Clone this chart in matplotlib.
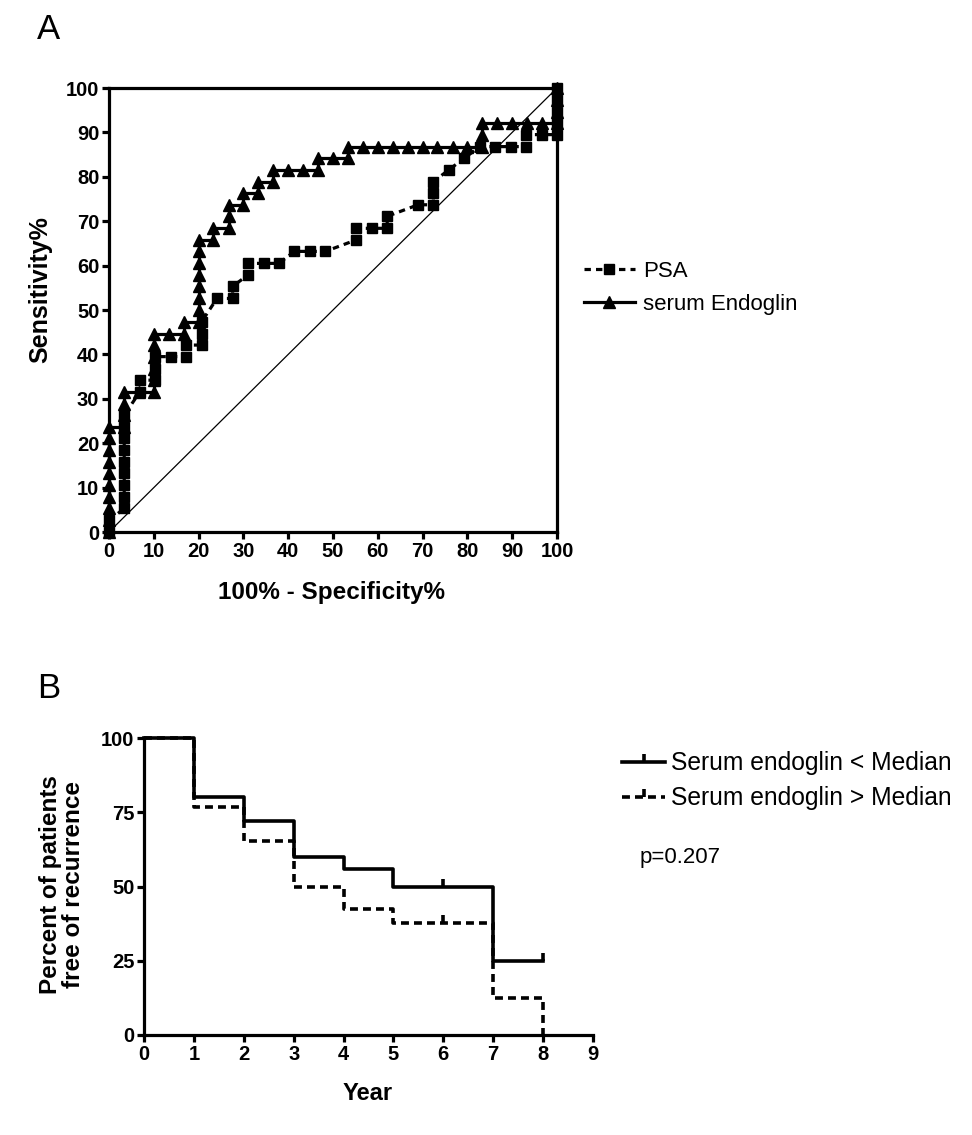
import matplotlib
matplotlib.use('Agg')
import matplotlib.pyplot as plt
from matplotlib.lines import Line2D

plt.rcParams['font.family'] = ['Liberation Sans', 'DejaVu Sans']

# Panel A: ROC (1 - specificity %, sensitivity %)
psa_fpr = [0, 0, 3.4, 3.4, 3.4, 3.4, 3.4, 3.4, 3.4, 3.4, 3.4,
           6.9, 6.9, 10.3, 10.3, 10.3, 13.8, 17.2, 17.2, 20.7, 20.7, 20.7,
           24.1, 27.6, 27.6, 31.0, 31.0, 34.5, 37.9, 41.4, 44.8, 48.3,
           55.2, 55.2, 58.6, 62.1, 62.1, 69.0, 72.4, 72.4, 72.4, 75.9, 79.3,
           82.8, 86.2, 89.7, 93.1, 93.1, 96.6, 100, 100, 100, 100, 100]
psa_sens = [0, 2.6, 5.3, 7.9, 10.5, 13.2, 15.8, 18.4, 21.1, 23.7, 26.3,
            31.6, 34.2, 34.2, 36.8, 39.5, 39.5, 39.5, 42.1, 42.1, 44.7, 47.4,
            52.6, 52.6, 55.3, 57.9, 60.5, 60.5, 60.5, 63.2, 63.2, 63.2,
            65.8, 68.4, 68.4, 68.4, 71.1, 73.7, 73.7, 76.3, 78.9, 81.6, 84.2,
            86.8, 86.8, 86.8, 86.8, 89.5, 89.5, 89.5, 92.1, 94.7, 97.4, 100]

endo_fpr = [0, 0, 0, 0, 0, 0, 0, 0, 0, 0,
            3.3, 3.3, 3.3, 3.3,
            6.7, 10, 10, 10, 10, 10, 10,
            13.3, 16.7, 16.7,
            20, 20, 20, 20, 20, 20, 20, 20,
            23.3, 23.3, 26.7, 26.7, 26.7, 30, 30, 33.3, 33.3, 36.7, 36.7,
            40, 43.3, 46.7, 46.7, 50, 53.3, 53.3,
            56.7, 60, 63.3, 66.7, 70, 73.3, 76.7, 80, 83.3, 83.3, 83.3,
            86.7, 90, 93.3, 96.7, 100, 100, 100, 100]
endo_sens = [0, 2.6, 5.3, 7.9, 10.5, 13.2, 15.8, 18.4, 21.1, 23.7,
             23.7, 26.3, 28.9, 31.6,
             31.6, 31.6, 34.2, 36.8, 39.5, 42.1, 44.7,
             44.7, 44.7, 47.4,
             47.4, 50.0, 52.6, 55.3, 57.9, 60.5, 63.2, 65.8,
             65.8, 68.4, 68.4, 71.1, 73.7, 73.7, 76.3, 76.3, 78.9, 78.9, 81.6,
             81.6, 81.6, 81.6, 84.2, 84.2, 84.2, 86.8,
             86.8, 86.8, 86.8, 86.8, 86.8, 86.8, 86.8, 86.8, 86.8, 89.5, 92.1,
             92.1, 92.1, 92.1, 92.1, 92.1, 94.7, 97.4, 100]

# Panel B: Kaplan-Meier
km_low_t = [0, 1, 2, 3, 4, 5, 7, 8]
km_low_s = [100, 80, 72, 60, 56, 49.8, 24.9, 24.9]
km_low_cens_t = [6, 8]
km_low_cens_s = [49.8, 24.9]

km_high_t = [0, 1, 2, 3, 4, 5, 7, 8, 8]
km_high_s = [100, 76.9, 65.4, 50, 42.3, 37.6, 12.5, 12.5, 0]
km_high_cens_t = [6]
km_high_cens_s = [37.6]

W, H = 972, 1135
fig = plt.figure(figsize=(W / 100, H / 100), dpi=100)


def box(x0, y0, x1, y1):
    return [x0 / W, 1 - y1 / H, (x1 - x0) / W, (y1 - y0) / H]


def ftext(x, y, s, **kw):
    fig.text(x / W, 1 - y / H, s, **kw)


LW = 2.3

# ---- A ----
ax = fig.add_axes(box(109, 88, 557, 532))
ax.plot([0, 100], [0, 100], color='black', lw=0.9)
ax.plot(psa_fpr, psa_sens, color='black', lw=LW, ls=(0, (2.0, 1.6)),
        marker='s', ms=6.5, clip_on=False, label='PSA', zorder=3)
ax.plot(endo_fpr, endo_sens, color='black', lw=LW, ls='-',
        marker='^', ms=8.5, clip_on=False, label='serum Endoglin', zorder=4)
ax.set_xlim(0, 100)
ax.set_ylim(0, 100)
ax.set_xticks(range(0, 101, 10))
ax.set_yticks(range(0, 101, 10))
for s in ax.spines.values():
    s.set_linewidth(LW)
ax.tick_params(length=5, width=LW, pad=2)
for lab in ax.get_xticklabels() + ax.get_yticklabels():
    lab.set_fontsize(14.5)
    lab.set_fontweight('bold')
ax.legend(loc='center left', bbox_to_anchor=(1.04, 0.55), frameon=False,
          fontsize=16, handlelength=2.3, handletextpad=0.35, labelspacing=0.55,
          numpoints=1, borderaxespad=0)

ftext(331, 592, '100% - Specificity%', ha='center', va='center',
      fontsize=17.5, fontweight='bold')
ftext(40, 290, 'Sensitivity%', ha='center', va='center', rotation=90,
      fontsize=18, fontweight='bold')
ftext(37, 39, 'A', fontsize=25)

# ---- B ----
bx = fig.add_axes(box(144, 738, 593, 1035))
bx.step(km_low_t, km_low_s, where='post', color='black', lw=2.6, clip_on=False)
bx.step(km_high_t, km_high_s, where='post', color='black', lw=2.6,
        ls=(0, (2.2, 1.4)), clip_on=False)
bx.plot(km_low_cens_t, km_low_cens_s, ls='none', marker=2, ms=6, mew=2.6,
        color='black', clip_on=False)
bx.plot(km_high_cens_t, km_high_cens_s, ls='none', marker=2, ms=6, mew=2.6,
        color='black', clip_on=False)
bx.set_xlim(0, 9)
bx.set_ylim(0, 100)
bx.set_xticks(range(0, 10))
bx.set_yticks([0, 25, 50, 75, 100])
bx.spines['top'].set_visible(False)
bx.spines['right'].set_visible(False)
bx.spines['left'].set_linewidth(LW)
bx.spines['bottom'].set_linewidth(LW)
bx.tick_params(length=5, width=LW, pad=2)
for lab in bx.get_xticklabels() + bx.get_yticklabels():
    lab.set_fontsize(14.5)
    lab.set_fontweight('bold')

handles = [
    Line2D([], [], color='black', lw=2.6, marker=2, ms=6, mew=2.6),
    Line2D([], [], color='black', lw=2.6, ls=(0, (2.2, 1.4)), marker=2, ms=6, mew=2.6),
]
bx.legend(handles, ['Serum endoglin < Median', 'Serum endoglin > Median'],
          loc='upper left', bbox_to_anchor=(1.065, 0.955), frameon=False,
          fontsize=17.7, handlelength=1.75, handletextpad=0.25, labelspacing=0.45,
          numpoints=1, borderaxespad=0, borderpad=0)

ftext(640, 857, 'p=0.207', ha='left', va='center', fontsize=16)
ftext(368, 1094, 'Year', ha='center', va='center', fontsize=17, fontweight='bold')
ftext(62, 885, 'Percent of patients\nfree of recurrence', ha='center', va='center',
      rotation=90, fontsize=17.5, fontweight='bold', linespacing=1.05)
ftext(37, 698, 'B', fontsize=25)

fig.savefig('out.png', dpi=100)
